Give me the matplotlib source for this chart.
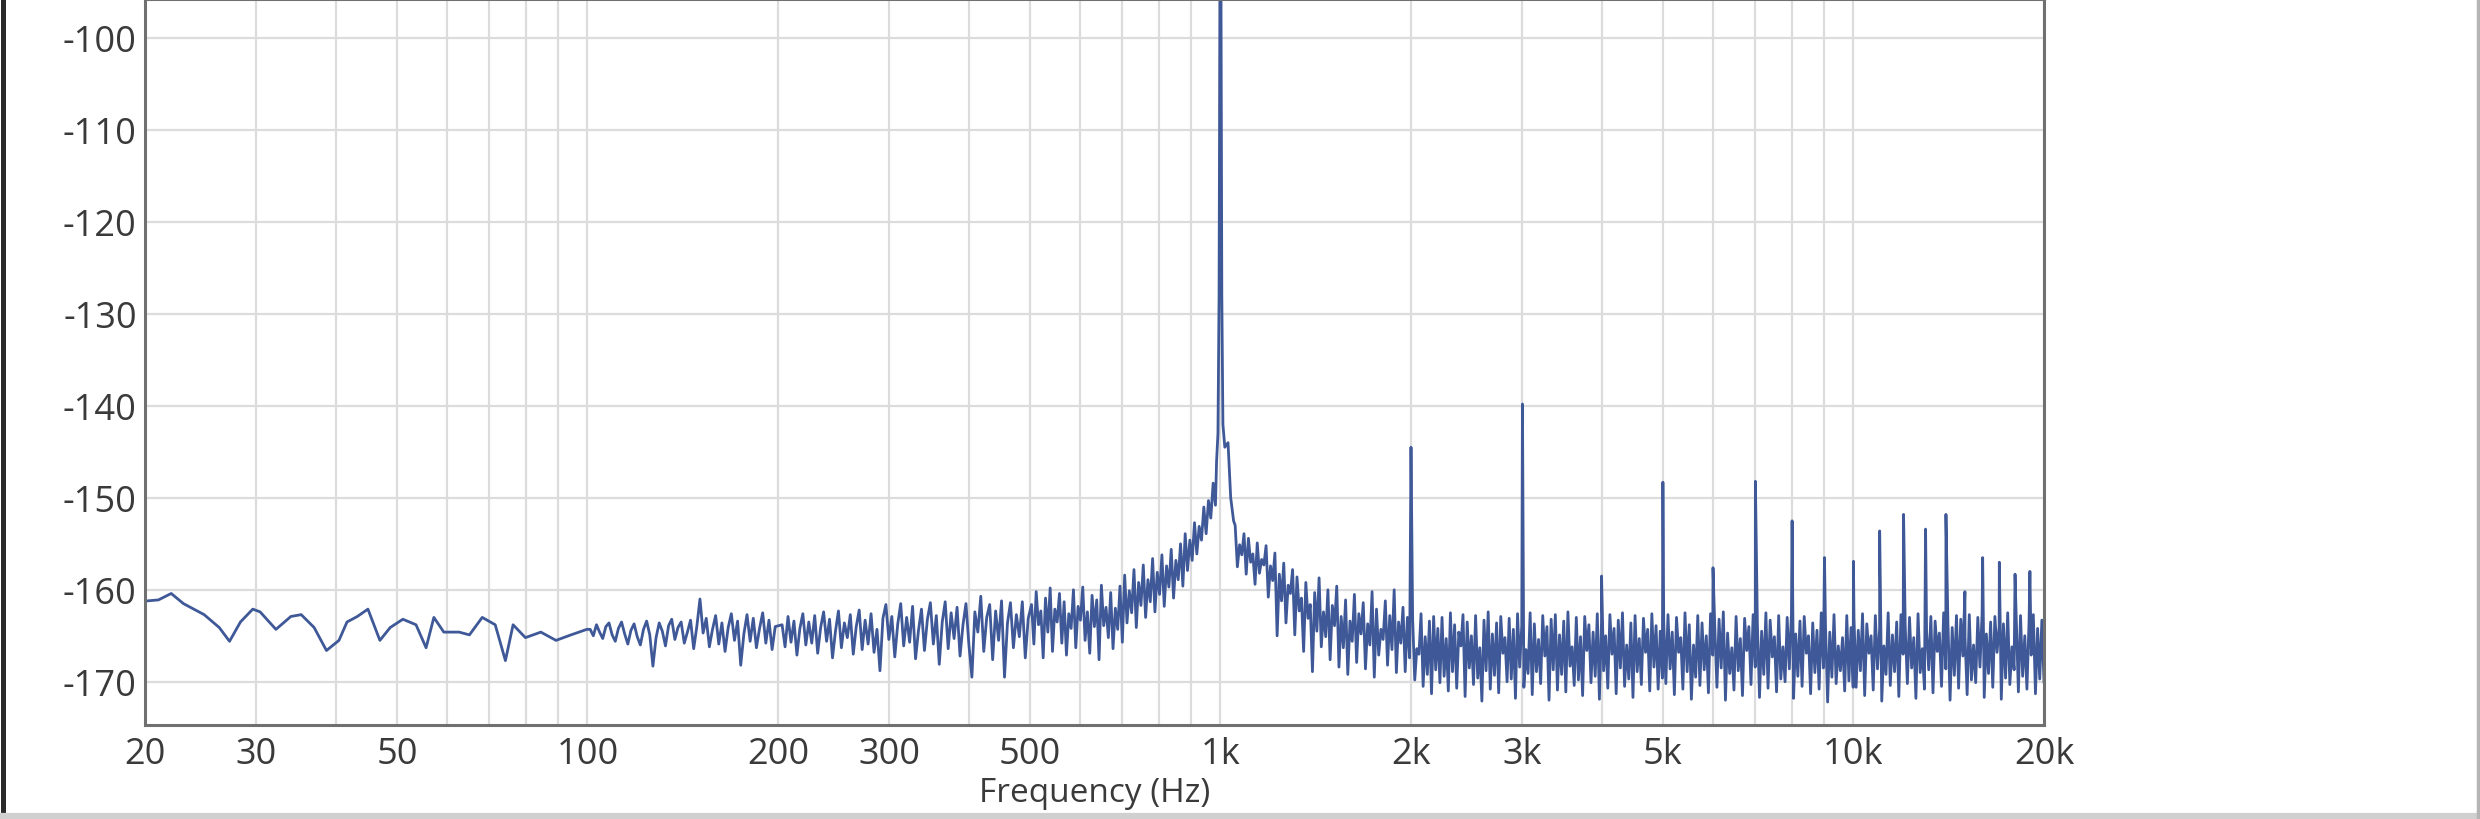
import numpy as np
import matplotlib
matplotlib.use('Agg')
from matplotlib import pyplot as plt
from matplotlib.lines import Line2D
from matplotlib.ticker import FixedLocator, FixedFormatter, NullFormatter

plt.rcParams['font.family'] = ['Open Sans', 'DejaVu Sans']
plt.rcParams['axes.unicode_minus'] = False

# 20 - 100 Hz: smooth part of the floor, read point by point
low_freqs = [20.2, 21.0, 22.0, 23.0, 24.8, 26.2, 27.2, 28.3, 29.6, 30.4,
             32.2, 34.0, 35.3, 37.0, 38.7, 40.5, 41.7, 43.3, 45.0, 47.0,
             48.8, 51.1, 53.6, 55.6, 57.2, 59.3, 62.7, 65.1, 68.2, 71.5,
             74.2, 76.3, 79.8, 84.4, 89.2, 94.2, 99.8]
low_levels = [-161.2, -161.1, -160.4, -161.5, -162.7, -164.1, -165.6, -163.5, -162.1, -162.4,
              -164.3, -162.9, -162.7, -164.1, -166.6, -165.5, -163.5, -162.9, -162.1, -165.5,
              -164.1, -163.2, -163.8, -166.3, -163.0, -164.6, -164.6, -164.9, -163.0, -163.8,
              -167.7, -163.8, -165.2, -164.6, -165.5, -164.9, -164.3]

# noise floor, values read left to right across each band
noise_100_200 = [
    -164.3, -165.0, -163.8, -164.6, -165.3, -164.0, -163.6, -164.9, -165.6, -164.2,
    -163.5, -164.8, -165.9, -164.4, -163.7, -165.1, -166.0, -164.3, -163.4, -164.9,
    -168.3, -165.2, -163.6, -164.5, -166.1, -163.9, -163.2, -165.4, -164.1, -163.5,
    -165.8, -164.6, -163.3, -166.4, -164.0, -161.0, -164.7, -163.1, -166.2, -164.3,
    -162.8, -165.9, -163.6, -166.7, -164.1, -162.6, -165.5, -163.4, -168.2, -164.8,
    -162.7, -165.6, -163.1, -166.3, -164.2, -162.5, -165.8, -163.3, -166.5, -164.0]
noise_200_500 = [
    -163.8, -166.2, -162.9, -165.7, -163.4, -167.1, -164.2, -162.6, -166.0, -163.5,
    -165.8, -162.8, -166.9, -164.1, -162.4, -165.6, -163.2, -167.4, -164.5, -162.3,
    -166.3, -163.6, -165.2, -162.7, -167.0, -164.0, -162.2, -166.5, -163.3, -165.9,
    -162.6, -166.8, -164.3, -168.8, -163.1, -161.6, -165.4, -162.9, -167.3, -163.7,
    -161.5, -166.1, -163.0, -165.7, -161.8, -167.5, -164.4, -162.1, -166.6, -163.2,
    -161.4, -165.9, -162.8, -168.1, -163.5, -161.3, -166.4, -162.5, -165.3, -161.9,
    -167.2, -163.8, -161.5, -166.0, -169.5, -162.4, -164.6, -160.7, -166.7, -163.0,
    -161.6, -167.6, -162.3, -165.5, -161.2, -169.5, -163.6, -161.4, -166.3, -162.7,
    -165.1, -161.3, -167.4, -163.1]
noise_500_980 = [
    -161.6, -165.9, -160.2, -163.8, -162.3, -167.4, -160.9, -164.6, -159.8, -166.7,
    -162.1, -163.5, -160.4, -165.8, -161.3, -167.1, -162.6, -164.2, -160.0, -166.3,
    -161.8, -163.3, -159.7, -165.5, -162.4, -166.9, -160.6, -164.0, -161.1, -167.6,
    -159.5, -163.9, -161.9, -165.2, -160.3, -166.4, -162.0, -164.3, -159.6, -165.7,
    -158.4, -163.6, -160.1, -162.5, -157.8, -164.1, -159.2, -161.7, -157.3, -163.0,
    -158.9, -161.3, -156.6, -162.4, -158.1, -160.5, -156.2, -161.8, -157.4, -159.7,
    -155.6, -160.9, -156.8, -158.9, -155.0, -159.6, -153.9, -157.9, -154.6, -156.8,
    -152.7, -156.1, -153.1, -154.6, -151.0, -153.9, -150.3, -152.2, -148.4, -150.8]
noise_1k_2k = [
    -153.0, -157.5, -155.1, -156.2, -153.9, -158.3, -154.4, -157.0, -156.1, -159.4,
    -154.9, -158.2, -156.7, -157.3, -155.2, -160.8, -157.4, -159.0, -156.0, -165.0,
    -158.3, -161.2, -157.1, -163.6, -159.5, -160.4, -157.8, -164.9, -158.6, -162.3,
    -160.9, -166.7, -159.2, -163.1, -161.6, -168.9, -160.3, -164.5, -158.7, -166.2,
    -162.4, -165.1, -160.0, -167.6, -161.7, -163.9, -159.6, -168.4, -162.9, -166.3,
    -161.1, -169.2, -163.4, -165.6, -160.5, -167.9, -162.6, -164.8, -161.4, -168.6,
    -163.7, -166.0, -160.2, -169.5, -162.1, -167.1, -164.3, -165.4, -161.2, -168.2,
    -162.8, -166.5, -160.0, -169.0, -163.5, -165.8, -161.9, -168.9, -163.0, -167.4]
noise_2k_5k = [
    -163.2, -169.8, -166.4, -167.0, -162.6, -170.5, -165.1, -169.2, -163.4, -171.3,
    -162.9, -168.7, -164.2, -170.1, -163.0, -169.4, -165.3, -171.0, -162.5, -168.9,
    -163.8, -170.7, -164.6, -166.1, -162.7, -171.6, -163.5, -168.5, -165.0, -170.3,
    -162.8, -169.6, -166.3, -172.1, -163.3, -168.8, -162.4, -170.8, -164.8, -169.3,
    -163.6, -171.2, -162.9, -166.9, -165.2, -170.0, -163.1, -169.7, -164.3, -171.8,
    -162.6, -168.4, -163.9, -170.6, -166.5, -169.1, -162.5, -171.4, -163.7, -168.9,
    -165.4, -170.2, -162.8, -167.2, -164.0, -172.0, -163.2, -168.7, -162.7, -170.9,
    -164.9, -169.2, -163.4, -171.1, -162.4, -168.3, -166.2, -170.4, -163.0, -169.8,
    -165.1, -171.5, -162.9, -166.6, -163.8, -170.1, -164.6, -169.4, -162.6, -171.9,
    -163.5, -168.8, -165.0, -170.7, -162.7, -167.0, -164.2, -171.3, -163.3, -168.5,
    -162.5, -170.5, -166.0, -169.7, -163.6, -171.7, -162.8, -168.9, -165.3, -170.3,
    -163.1, -166.8, -164.3, -171.0, -162.6, -168.4, -163.9, -170.8, -164.5, -169.6]
noise_5k_10k = [
    -163.4, -170.2, -162.7, -168.6, -164.6, -171.4, -163.0, -166.8, -165.2, -170.8,
    -162.5, -168.9, -163.8, -171.9, -166.0, -169.5, -162.8, -170.4, -163.6, -168.7,
    -165.0, -171.2, -162.6, -167.1, -164.1, -170.6, -163.2, -168.5, -162.4, -172.0,
    -164.7, -169.1, -166.3, -170.9, -162.9, -168.8, -165.3, -171.5, -163.1, -166.6,
    -164.0, -170.3, -162.7, -168.4, -163.7, -171.7, -164.5, -169.2, -162.5, -170.7,
    -163.3, -167.3, -165.1, -171.1, -162.8, -169.7, -166.2, -170.0, -163.0, -168.6,
    -162.6, -171.8, -164.8, -169.4, -163.4, -170.5, -162.9, -166.9, -165.0, -171.3,
    -163.6, -169.0, -164.4, -170.8, -162.5, -168.5, -163.9, -172.2, -164.6, -169.5,
    -162.7, -170.2, -166.1, -168.8, -165.2, -171.0, -162.8, -169.9, -164.1, -170.6]
noise_10k_20k = [
    -163.1, -170.6, -164.4, -168.8, -162.6, -171.5, -163.7, -166.9, -165.0, -170.9,
    -162.8, -168.6, -164.2, -172.1, -166.1, -169.2, -162.5, -170.4, -164.9, -168.9,
    -163.5, -171.6, -162.7, -167.0, -164.0, -170.2, -163.0, -168.5, -165.2, -171.8,
    -162.6, -169.0, -166.4, -170.8, -164.5, -168.7, -162.9, -171.2, -163.4, -166.7,
    -164.7, -170.5, -162.5, -168.6, -163.6, -172.0, -164.1, -169.3, -162.8, -170.7,
    -163.2, -167.2, -165.1, -171.4, -162.7, -169.8, -166.0, -170.1, -163.0, -168.4,
    -162.6, -171.7, -164.8, -169.1, -163.5, -170.6, -162.9, -166.8, -164.0, -171.9,
    -163.7, -169.6, -162.5, -170.3, -166.2, -168.7, -163.1, -171.1, -162.8, -169.4,
    -165.0, -170.8, -163.4, -167.1, -162.7, -171.3, -164.2, -169.7, -163.3, -170.0]

# the 1 kHz test tone and its skirt
peak_freqs = [986, 991, 995, 998, 1000, 1002, 1005, 1009, 1016, 1028, 1038, 1049]
peak_levels = [-146.0, -143.0, -128.0, -95.0, -20.0, -95.0, -128.0, -142.0, -144.5, -144.0, -150.0, -152.5]

# harmonics 2k .. 19k
harm_freqs = [2000, 3000, 4000, 5000, 6000, 7000, 8000, 9000, 10000,
              11000, 12000, 13000, 14000, 15000, 16000, 17000, 18000, 19000]
harm_levels = [-144.5, -139.8, -158.5, -148.3, -157.6, -148.2, -152.5, -156.5, -156.9,
               -153.6, -151.8, -153.4, -151.8, -160.2, -156.5, -157.0, -158.3, -158.0]

x_ticks = [20, 30, 50, 100, 200, 300, 500, 1000, 2000, 3000, 5000, 10000, 20000]
x_labels = ['20', '30', '50', '100', '200', '300', '500', '1k', '2k', '3k', '5k', '10k', '20k']
x_minor = [40, 60, 70, 80, 90, 400, 600, 700, 800, 900,
           4000, 6000, 7000, 8000, 9000]
y_ticks = [-100, -110, -120, -130, -140, -150, -160, -170]

bands = [(101, 198, noise_100_200), (203, 497, noise_200_500), (503, 982, noise_500_980),
         (1055, 1990, noise_1k_2k), (2012, 4990, noise_2k_5k), (5015, 9990, noise_5k_10k),
         (10020, 20000, noise_10k_20k)]

f = list(low_freqs) + list(peak_freqs) + list(harm_freqs)
lv = list(low_levels) + list(peak_levels) + list(harm_levels)
for lo, hi, vals in bands:
    f += list(np.geomspace(lo, hi, len(vals)))
    lv += list(vals)
f = np.array(f)
lv = np.array(lv)
order = np.argsort(f)
f, lv = f[order], lv[order]

fig = plt.figure(figsize=(24.8, 8.2), dpi=100)
ax = fig.add_axes([145 / 2480, 94 / 820, (2044 - 145) / 2480, 726 / 820])

ax.plot(f, lv, color='#3f5897', lw=2.0)

ax.set_xscale('log')
ax.set_xlim(20, 20000)
ax.set_ylim(-174.7, -95.76)

ax.xaxis.set_major_locator(FixedLocator(x_ticks))
ax.xaxis.set_major_formatter(FixedFormatter(x_labels))
ax.xaxis.set_minor_locator(FixedLocator(x_minor))
ax.xaxis.set_minor_formatter(NullFormatter())
ax.set_yticks(y_ticks)
ax.set_yticklabels([str(v) for v in y_ticks])

ax.grid(True, which='both', color='#dcdcdc', lw=1.6)
ax.set_axisbelow(True)
ax.tick_params(which='both', length=0, labelsize=26, labelcolor='#3a3a3a')
ax.tick_params(axis='x', pad=8)
ax.tick_params(axis='y', pad=6)

for s in ax.spines.values():
    s.set_color('#707070')
    s.set_linewidth(2.2)

ax.set_xlabel('Frequency (Hz)', fontsize=24, color='#3a3a3a')
ax.xaxis.set_label_coords(0.5, -0.07)

# window frame of the screenshot
fig.add_artist(Line2D([2.5 / 2480, 2.5 / 2480], [0, 1], transform=fig.transFigure, color='#2a2a2a', lw=3.6))
fig.add_artist(Line2D([0, 1], [3 / 820, 3 / 820], transform=fig.transFigure, color='#d0d0d0', lw=4.5))
fig.add_artist(Line2D([2478 / 2480, 2478 / 2480], [0, 1], transform=fig.transFigure, color='#b4b4b4', lw=2.5))

fig.savefig('out.png', dpi=100)
